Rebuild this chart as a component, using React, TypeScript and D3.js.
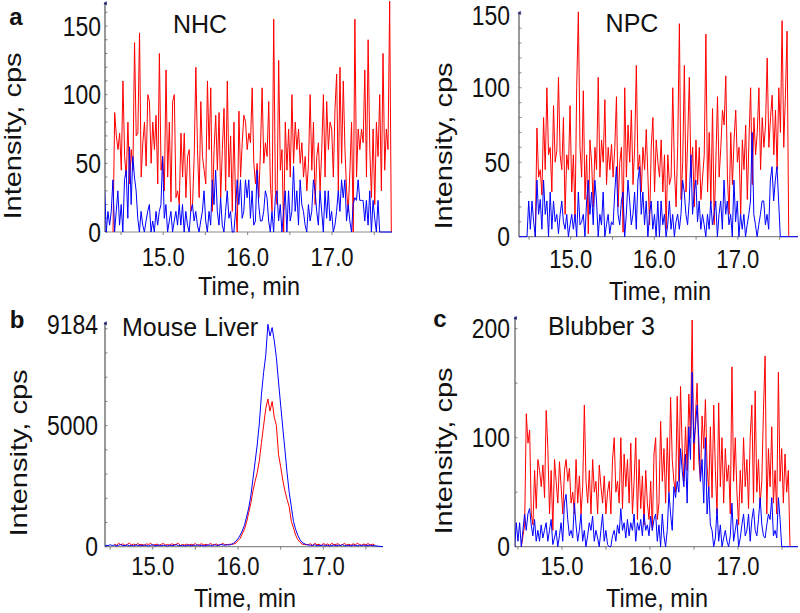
import React from 'react';
import * as d3 from 'd3';

const FONT = '"Liberation Sans", Arial, Helvetica, sans-serif';

// ---------- Panel a : NHC ----------
const nhcRed = [0,87,70,60,72,45,110,55,40,80,35,60,45,138,70,72,145,40,65,80,48,100,95,50,80,60,85,35,130,45,55,30,118,40,80,22,95,100,25,30,20,72,40,72,25,55,60,15,20,55,120,60,25,95,55,45,35,110,60,105,15,60,85,45,87,25,60,90,30,110,40,70,15,80,20,0,88,40,65,85,80,60,72,
  65,105,50,35,50,25,60,105,50,65,55,95,35,15,155,30,20,125,45,60,0,80,45,75,40,100,50,80,60,75,50,65,40,55,30,50,100,45,80,20,55,65,30,60,100,40,95,60,80,75,40,90,115,30,120,50,110,60,30,15,45,80,0,155,40,75,60,75,65,118,40,140,60,25,75,20,80,55,100,30,130,45,75,60,168,0];
const nhcRedSpan = [14.405, 17.702];
const nhcBlue = [10,30,0,15,5,15,38,0,15,30,5,20,0,38,45,10,62,20,55,40,30,10,0,15,5,0,8,15,20,0,8,0,15,5,15,20,55,10,20,0,8,15,0,8,15,5,20,5,20,0,15,5,0,15,20,8,15,5,0,8,15,30,8,0,15,5,38,20,45,15,5,25,5,0,15,30,10,15,0,0,15,38,20,38,10,15,38,25,38,
  10,30,5,8,45,20,8,8,15,30,25,8,0,15,0,25,30,8,20,0,15,30,0,30,8,15,48,15,30,5,38,20,15,5,0,20,8,15,38,30,15,5,30,15,0,30,10,30,8,15,0,5,15,30,15,38,25,38,8,20,8,0,20,25,23,38,23,23,23,8,23,5,30,0,23,10,0,23,0];
const nhcBlueSpan = [14.286, 17.564];

// ---------- Panel NPC ----------
const npcRed = [0,73,40,45,28,80,45,100,55,60,30,88,50,58,107,55,45,80,15,55,45,88,30,55,12,100,151,60,40,98,25,55,2,65,50,20,60,45,107,40,65,50,92,35,60,45,62,40,60,94,20,50,60,3,100,40,75,50,85,35,60,115,45,55,30,60,45,72,40,8,60,80,30,65,50,
  40,65,30,55,5,55,35,40,100,45,20,62,143,25,50,115,30,65,107,40,60,20,65,35,60,25,40,55,136,30,70,22,86,8,50,94,40,60,85,75,108,40,15,70,35,65,85,50,60,15,65,45,75,25,65,100,35,80,55,70,100,45,80,60,75,120,60,80,95,55,85,45,100,70,145,60,95,138,0];
const npcRedSpan = [14.575, 17.609];
const npcBlue = [0,24,5,24,10,0,38,15,25,5,38,15,24,0,30,5,24,10,15,2,15,24,10,5,15,0,8,15,5,15,0,30,8,10,15,0,24,38,15,30,8,38,24,0,15,8,30,0,8,15,2,10,8,30,47,15,8,24,30,0,15,38,24,8,15,30,5,38,47,15,30,8,24,0,15,24,5,15,0,24,
  0,24,8,15,0,8,24,5,15,0,10,15,5,15,38,30,15,8,24,55,15,30,38,10,24,5,15,8,0,15,5,24,8,15,24,0,15,24,5,38,15,24,8,15,0,38,10,24,0,15,5,15,0,8,15,24,70,15,8,0,8,15,24,24,8,15,5,38,47,24,38,47,24,0];
const npcBlueSpan = [14.476, 17.508];

// ---------- Panel b : Mouse Liver (sampling step 0.025 min) ----------
const liverStep = 0.025;
const liverBluePre = [60,40,80,50,70,30,60,90,40,50,70,40,60,30,80,50,60,40,70,50,30,60,80,40,50,70,40,60,50,30,70,40,60,80,50,40,60,30,50,70,40,60,50,80,40,60,30,50,70,60,40,80,50,60,90,70,60,80];
const liverBluePreStart = 14.45;
const liverBluePeak = [70,100,150,230,330,480,650,880,1220,1600,2100,2800,3500,4200,5100,6300,7200,7900,9184,8700,9050,8500,7800,6800,5850,4900,4000,3050,2250,1650,1050,720,480,300,180,130,90];
const liverPeakStart = 15.9;
const liverBluePost = [70,60,50,80,40,60,50,70,40,60,30,50,70,40,60,50,80,40,50,60,30,70,50,40,60,50,70,40,50,60];
const liverPostStart = 16.825;
const liverRedPre = [100,60,140,80,120,50,90,150,70,110,60,130,80,100,50,120,90,140,60,80,110,50,100,130,70,90,60,120,80,100,140,50,90,70,110,60,100,80,130,50,90,120,70,100,60,140,80,90,110,60,100,130,80,90];
const liverRedPreStart = 14.55;
const liverRedPeak = [100,100,110,150,250,340,530,720,1010,1400,1800,2300,2700,3050,3550,4300,5000,5700,6100,5600,6000,5350,5000,3800,3300,2750,2300,1950,1650,1050,780,480,300,190,110,90,80];
const liverRedPost = [90,120,60,140,80,100,50,130,90,110,60,140,80,100,120,50,90,130,70,100,60,120,80,140,90,60,110,80,130,70,100,90];

// ---------- Panel c : Blubber 3 ----------
const blubRed = [0,10,20,122,95,107,30,20,70,35,80,70,55,75,45,125,90,30,70,15,80,60,40,78,55,30,70,80,60,72,40,50,30,80,40,65,30,55,130,60,40,70,30,80,50,60,30,75,55,40,65,30,50,60,30,80,100,50,60,40,100,35,85,55,80,40,95,30,60,100,25,80,35,65,20,70,40,25,60,15,85,100,
  25,40,115,60,90,40,100,50,137,80,60,50,138,60,147,90,60,110,70,140,100,208,70,120,150,80,60,120,90,135,75,50,110,45,130,70,30,132,55,100,40,90,60,75,30,165,60,100,50,20,70,40,100,55,80,35,100,130,40,143,50,80,40,60,125,175,30,90,55,110,40,70,30,160,60,90,40,85,50,70,0];
const blubRedSpan = [14.538, 17.591];
const blubBlue = [15,0,22,5,22,0,15,30,15,30,35,20,10,25,5,15,5,20,8,15,22,5,15,25,2,8,15,0,10,22,5,40,48,25,10,15,8,40,20,5,15,30,5,15,0,10,22,15,28,5,15,8,0,15,30,5,15,2,0,0,10,15,5,20,12,35,15,22,8,25,10,22,15,30,5,22,15,25,10,30,15,20,10,28,15,25,30,
  5,20,0,30,10,0,15,50,30,15,55,45,60,50,90,70,55,85,40,110,80,160,95,110,130,100,60,80,40,100,30,55,20,15,0,8,35,5,20,0,8,15,5,0,10,40,5,15,25,0,8,20,30,10,15,30,5,25,35,15,10,25,45,20,10,8,20,30,25,45,10,15,8,45,25,0];
const blubBlueSpan = [14.443, 17.497];

// ---------- tick labels ----------
const xTickLabels = [15, 16, 17];
const xMinorTicks = [14.5, 15, 15.5, 16, 16.5, 17, 17.5];
const ticksNHC = [0, 50, 100, 150];
const ticksNPC = [0, 50, 100, 150];
const ticksLiver = [0, 5000, 9184];
const ticksBlub = [0, 100, 200];

type Pt = [number, number];

function spanPoints(values: number[], span: number[]): Pt[] {
  const n = values.length;
  return values.map((v, i) => [span[0] + ((span[1] - span[0]) * i) / (n - 1), v] as Pt);
}
function stepPoints(values: number[], start: number, step: number): Pt[] {
  return values.map((v, i) => [start + i * step, v] as Pt);
}

interface PanelCfg {
  id: string;
  left: number; right: number; zeroY: number; topY: number;
  xDomain: [number, number]; yDomain: [number, number];
  yTicks: number[]; yMinor: number; yLabelX: number;
  xLabelY: number; xTitle: [number, number]; yTitle: [number, number];
  title: string; titlePos: [number, number]; titleAnchor: string;
  letter?: string; letterPos?: [number, number];
  red: Pt[]; blue: Pt[];
}

function Panel({ c }: { c: PanelCfg }) {
  const x = d3.scaleLinear().domain(c.xDomain).range([c.left, c.right]);
  const y = d3.scaleLinear().domain(c.yDomain).range([c.zeroY, c.topY]);
  const line = d3.line<Pt>().x(d => x(d[0])).y(d => y(d[1]));
  const blue: Pt[] = [[c.xDomain[0], 0], ...c.blue, [c.xDomain[1], 0]];
  const minor: number[] = [];
  for (let v = 0; v <= c.yDomain[1]; v += c.yMinor) minor.push(v);
  return (
    <g>
      <defs>
        <clipPath id={`clip-${c.id}`}>
          <rect x={c.left} y={c.topY - 4} width={c.right - c.left + 1} height={c.zeroY - c.topY + 5} />
        </clipPath>
      </defs>
      <line x1={c.left} x2={c.right} y1={c.zeroY} y2={c.zeroY} stroke="#8a8a8a" strokeWidth={1.2} />
      <line x1={c.left} x2={c.left} y1={c.zeroY} y2={c.topY} stroke="#555" strokeWidth={1.2} />
      <path d={`M${c.left - 1.5},${c.topY + 2} L${c.left + 1.5},${c.topY - 1} L${c.left + 2},${c.topY + 3} Z`} fill="#1a1a7a" />
      {minor.map(v => (
        <line key={'ym' + v} x1={c.left} x2={c.left + 2.5} y1={y(v)} y2={y(v)} stroke="#666" strokeWidth={0.8} />
      ))}
      {xMinorTicks.map(t => (
        <line key={'xm' + t} x1={x(t)} x2={x(t)} y1={c.zeroY} y2={c.zeroY + 3} stroke="#666" strokeWidth={0.8} />
      ))}
      <g clipPath={`url(#clip-${c.id})`}>
        <path d={line(c.red) || ''} fill="none" stroke="#ff0000" strokeWidth={1} strokeLinejoin="round" />
        <path d={line(blue) || ''} fill="none" stroke="#0000ff" strokeWidth={1} strokeLinejoin="round" />
      </g>
      {c.yTicks.map(t => (
        <text key={'yl' + t} transform={`translate(${c.yLabelX},${Math.max(y(t), 15)}) scale(0.85,1)`} textAnchor="end" dy="0.36em"
          fontSize={27} fontFamily={FONT} fill="#111">{String(t)}</text>
      ))}
      {xTickLabels.map(t => (
        <text key={'xl' + t} transform={`translate(${x(t)},${c.xLabelY}) scale(0.85,1)`} textAnchor="middle"
          fontSize={26} fontFamily={FONT} fill="#111">{t.toFixed(1)}</text>
      ))}
      <text transform={`translate(${c.xTitle[0]},${c.xTitle[1]}) scale(0.9,1)`} textAnchor="middle"
        fontSize={26} fontFamily={FONT} fill="#111">Time, min</text>
      <text transform={`translate(${c.yTitle[0]},${c.yTitle[1]}) scale(0.85,1) rotate(-90)`} textAnchor="middle"
        fontSize={29} fontFamily={FONT} fill="#111">Intensity, cps</text>
      <text x={c.titlePos[0]} y={c.titlePos[1]} textAnchor={c.titleAnchor as any} fontSize={25} fontFamily={FONT} fill="#111">{c.title}</text>
      {c.letter && c.letterPos && (
        <text x={c.letterPos[0]} y={c.letterPos[1]} textAnchor="middle" fontSize={24} fontWeight="bold" fontFamily={FONT} fill="#111">{c.letter}</text>
      )}
    </g>
  );
}

export default function App() {
  const panels: PanelCfg[] = [
    {
      id: 'nhc', left: 105, right: 392, zeroY: 232, topY: 2,
      xDomain: [14.31, 17.71], yDomain: [0, 167.5], yTicks: ticksNHC, yMinor: 10, yLabelX: 101,
      xLabelY: 266, xTitle: [249, 295], yTitle: [21, 136],
      title: 'NHC', titlePos: [200, 33], titleAnchor: 'middle', letter: 'a', letterPos: [16, 25],
      red: spanPoints(nhcRed, nhcRedSpan), blue: spanPoints(nhcBlue, nhcBlueSpan),
    },
    {
      id: 'npc', left: 519, right: 798, zeroY: 236.7, topY: 11.8,
      xDomain: [14.38, 17.72], yDomain: [0, 151], yTicks: ticksNPC, yMinor: 10, yLabelX: 510,
      xLabelY: 268, xTitle: [660, 300], yTitle: [452, 146],
      title: 'NPC', titlePos: [632, 32], titleAnchor: 'middle',
      red: spanPoints(npcRed, npcRedSpan), blue: spanPoints(npcBlue, npcBlueSpan),
    },
    {
      id: 'liver', left: 105, right: 383, zeroY: 546.7, topY: 322,
      xDomain: [14.44, 17.7], yDomain: [0, 9279], yTicks: ticksLiver, yMinor: 1000, yLabelX: 98,
      xLabelY: 575, xTitle: [245, 607], yTitle: [27, 453],
      title: 'Mouse Liver', titlePos: [122, 336], titleAnchor: 'start', letter: 'b', letterPos: [17, 328],
      red: [
        ...stepPoints(liverRedPre, liverRedPreStart, liverStep),
        ...stepPoints(liverRedPeak, liverPeakStart, liverStep),
        ...stepPoints(liverRedPost, liverPostStart, liverStep),
      ],
      blue: [
        ...stepPoints(liverBluePre, liverBluePreStart, liverStep),
        ...stepPoints(liverBluePeak, liverPeakStart, liverStep),
        ...stepPoints(liverBluePost, liverPostStart, liverStep),
      ],
    },
    {
      id: 'blub', left: 515, right: 798, zeroY: 546.7, topY: 316.7,
      xDomain: [14.466, 17.682], yDomain: [0, 211], yTicks: ticksBlub, yMinor: 50, yLabelX: 510,
      xLabelY: 575, xTitle: [657, 607], yTitle: [452, 451],
      title: 'Blubber 3', titlePos: [548, 335], titleAnchor: 'start', letter: 'c', letterPos: [440, 327],
      red: spanPoints(blubRed, blubRedSpan), blue: spanPoints(blubBlue, blubBlueSpan),
    },
  ];
  return (
    <svg width={800} height={613} style={{ position: 'absolute', left: 0, top: 0, background: '#fff' }}>
      <rect width={800} height={613} fill="#fff" />
      {panels.map(p => <Panel key={p.id} c={p} />)}
    </svg>
  );
}
